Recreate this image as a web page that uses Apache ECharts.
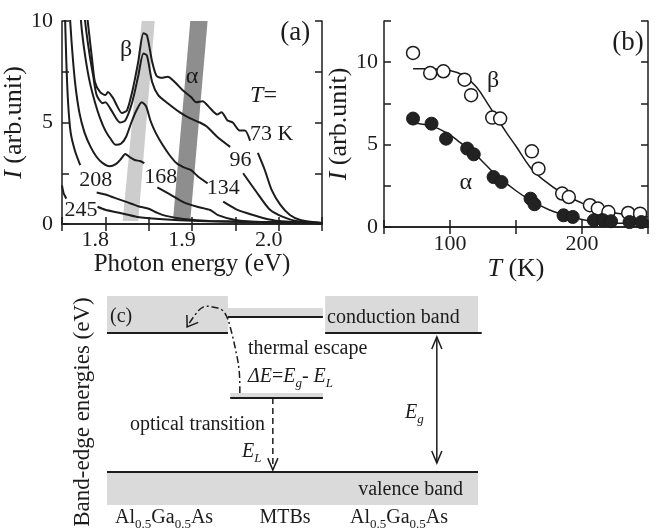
<!DOCTYPE html>
<html>
<head>
<meta charset="utf-8">
<script src="https://cdn.jsdelivr.net/npm/echarts@6/dist/echarts.min.js"></script>
<style>
  html, body { margin: 0; padding: 0; background: #fff; }
  #chart { width: 656px; height: 532px; }
</style>
</head>
<body>
<div id="chart"></div>
<script>
const FONT = '"Liberation Serif", "Times New Roman", Times, serif';
const INK = '#1c1c1c';

// ---- panel (a): PL spectra [photon energy (eV), intensity]; null = break behind the label
const spec73 = [[1.777, 11], [1.781, 9.5], [1.785, 8.0], [1.788, 7.0], [1.794, 6.5], [1.800, 6.35], [1.803, 6.5], [1.809, 6.2], [1.813, 5.86], [1.819, 5.47], [1.825, 5.6], [1.832, 6.7], [1.838, 8.0], [1.844, 9.4], [1.848, 9.3], [1.854, 8.0], [1.859, 7.3], [1.865, 7.2], [1.872, 7.25], [1.880, 7.0], [1.889, 6.6], [1.899, 6.25], [1.905, 6.0], [1.912, 6.05], [1.921, 5.7], [1.929, 5.4], [1.934, 5.5], [1.941, 5.1], [1.947, 5.0], [1.955, 4.6], [1.961, 4.6], [1.967, 4.1], null, [1.976, 3.5], [1.984, 2.66], [1.992, 1.67], [2.002, 0.94], [2.013, 0.44], [2.025, 0.2], [2.05, 0.05]];
const spec96 = [[1.774, 11], [1.778, 9.5], [1.782, 8.3], [1.786, 7.3], [1.790, 6.35], [1.797, 5.95], [1.800, 6.0], [1.807, 5.6], [1.817, 5.0], [1.823, 5.1], [1.831, 6.0], [1.838, 7.3], [1.844, 8.4], [1.848, 8.3], [1.854, 7.0], [1.861, 6.35], [1.872, 5.95], [1.886, 5.5], [1.898, 5.2], [1.909, 5.0], [1.917, 4.8], [1.929, 4.3], [1.944, 3.8], null, [1.959, 2.5], [1.974, 1.6], [1.990, 0.7], [2.005, 0.35], [2.02, 0.15], [2.05, 0.05]];
const spec134 = [[1.770, 11], [1.773, 9.5], [1.777, 8.2], [1.782, 7.0], [1.788, 6.0], [1.794, 5.2], [1.800, 4.6], [1.806, 4.2], [1.812, 3.9], [1.818, 3.95], [1.824, 4.3], [1.830, 5.0], [1.836, 5.6], [1.842, 6.0], [1.847, 5.8], [1.852, 5.1], [1.858, 4.5], [1.866, 3.9], [1.874, 3.4], [1.882, 3.0], [1.890, 2.8], [1.899, 2.65], [1.908, 2.3], [1.918, 2.0], null, [1.936, 1.1], [1.950, 0.75], [1.963, 0.54], [1.982, 0.3], [2.0, 0.15], [2.05, 0.05]];
const spec168 = [[1.758, 11], [1.761, 9], [1.765, 7], [1.770, 5.5], [1.776, 4.5], [1.783, 3.8], [1.790, 3.3], [1.797, 3.0], [1.805, 2.85], [1.812, 2.95], [1.818, 3.2], [1.823, 3.45], [1.828, 3.3], [1.834, 3.15], [1.840, 3.1], [1.845, 3.0], null, [1.860, 1.8], [1.875, 1.45], [1.890, 1.08], [1.906, 0.85], [1.921, 0.69], [1.930, 0.44], [1.950, 0.2], [1.98, 0.1], [2.05, 0.05]];
const spec208 = [[1.753, 11], [1.755, 8], [1.757, 6], [1.760, 4.5], [1.765, 3.6], [1.771, 2.9], null, [1.790, 1.55], [1.800, 1.45], [1.810, 1.3], [1.820, 1.15], [1.830, 1.0], [1.840, 0.85], [1.850, 0.75], [1.860, 0.55], [1.870, 0.4], [1.890, 0.25], [1.920, 0.15], [2.05, 0.05]];
const spec245 = [[1.750, 1.9], [1.752, 1.5], [1.755, 1.25], null, [1.791, 0.85], [1.800, 0.7], [1.816, 0.55], [1.837, 0.35], [1.862, 0.25], [1.909, 0.15], [1.96, 0.1], [2.05, 0.05]];
const betaBand = [[1.820, 0.15], [1.838, 0.15], [1.857, 10], [1.842, 10]];
const alphaBand = [[1.878, 0.15], [1.898, 0.15], [1.918, 10], [1.898, 10]];
const energyLabels = [1.8, 1.9, 2.0];
const intensityLabels = [0, 5, 10];

// ---- panel (b): integrated intensity vs temperature (K)
const betaT = [72, 85, 95, 111, 116, 132, 138, 162, 167, 185, 190, 206, 212, 220, 235, 244];
const betaI = [10.56, 9.34, 9.45, 8.94, 8.0, 6.64, 6.58, 4.59, 3.54, 2.03, 1.82, 1.32, 1.12, 0.91, 0.85, 0.81];
const alphaT = [72, 86, 97, 113, 118, 133, 139, 161, 164, 186, 193, 209, 216, 222, 236, 245];
const alphaI = [6.58, 6.27, 5.36, 4.76, 4.41, 3.03, 2.73, 1.72, 1.38, 0.71, 0.61, 0.41, 0.41, 0.35, 0.3, 0.3];
const betaFitT = [72, 85, 100, 110, 120, 130, 143, 150, 161, 170, 186, 200, 211, 225, 250];
const betaFitI = [9.6, 9.6, 9.5, 9.2, 8.5, 7.3, 5.7, 4.9, 3.6, 2.9, 2.0, 1.45, 1.12, 0.85, 0.6];
const alphaFitT = [72, 85, 98, 108, 118, 128, 135, 150, 161, 175, 186, 200, 211, 230, 250];
const alphaFitI = [6.3, 6.15, 5.7, 5.1, 4.5, 3.7, 3.15, 2.2, 1.62, 1.05, 0.75, 0.45, 0.3, 0.22, 0.2];
const tempLabels = [100, 200];

// ---- panel (c): band-edge diagram, x 0..100 across the structure, y 0..100 energy
const grayBoxes = [[0, 82.3, 32.6, 100], [58.8, 82.3, 100, 100], [32.6, 90, 58.2, 94.3], [33.2, 51.2, 58.2, 53.6], [0, 0, 100, 15.8]];
const levels = [[[0, 82.3], [32.6, 82.3]], [[58.8, 82.3], [101, 82.3]], [[32.6, 90], [58.2, 90]], [[33.2, 51.2], [58.2, 51.2]], [[0, 15.8], [100, 15.8]]];
const opticalArrow = [[44.7, 51.2], [44.7, 16.7]];
const gapArrow = [[88.9, 80.4], [88.9, 20.1]];
const escapePath = [[35.8, 53.6], [35.6, 64.6], [34.5, 75.6], [33.2, 85.2], [32.3, 90], [31.0, 93.3], [28.6, 94.7], [25.9, 94.7], [23.7, 90.9], [21.6, 85.2]];

function rich(size) {
  const base = { fontSize: size, fontFamily: FONT, color: INK, lineHeight: Math.round(size * 1.3), verticalAlign: 'middle' };
  const sub = { fontSize: Math.round(size * 0.65), fontFamily: FONT, color: INK, lineHeight: Math.round(size * 0.65), verticalAlign: 'bottom' };
  return {
    n: base,
    i: Object.assign({}, base, { fontStyle: 'italic' }),
    s: Object.assign({}, sub, { fontStyle: 'italic' }),
    u: sub
  };
}

const annoA = [
  { x: 1.824, y: 8.6, text: 'β', size: 24 },
  { x: 1.900, y: 7.25, text: 'α', size: 24 },
  { x: 1.967, y: 6.3, text: '{i|T}{n|=}', size: 24, align: 'left' },
  { x: 1.967, y: 4.4, text: '73 K', size: 22, align: 'left' },
  { x: 1.956, y: 3.15, text: '96', size: 22 },
  { x: 1.936, y: 1.77, text: '134', size: 22 },
  { x: 1.864, y: 2.32, text: '168', size: 22 },
  { x: 1.789, y: 2.17, text: '208', size: 22 },
  { x: 1.772, y: 0.69, text: '245', size: 22 },
  { x: 2.019, y: 9.4, text: '(a)', size: 27 }
];
const annoB = [
  { x: 132.6, y: 8.9, text: 'β', size: 24 },
  { x: 112, y: 2.7, text: 'α', size: 24 },
  { x: 234.8, y: 11.15, text: '(b)', size: 27 }
];
const annoC = [
  { x: 0.8, y: 90, text: '(c)', size: 20, align: 'left' },
  { x: 59.3, y: 89.5, text: 'conduction band', size: 20, align: 'left' },
  { x: 38, y: 75, text: 'thermal escape', size: 20, align: 'left' },
  { x: 38, y: 61.2, text: '{i|ΔE}{n|=}{i|E}{s|g}{n|- }{i|E}{s|L}', size: 20, align: 'left' },
  { x: 6.2, y: 38.3, text: 'optical transition', size: 20, align: 'left' },
  { x: 36.4, y: 25.4, text: '{i|E}{s|L}', size: 20, align: 'left' },
  { x: 80.3, y: 44, text: '{i|E}{s|g}', size: 20, align: 'left' },
  { x: 67.7, y: 7.2, text: 'valence band', size: 20, align: 'left' },
  { x: 15.4, y: -6.2, text: '{n|Al}{u|0.5}{n|Ga}{u|0.5}{n|As}', size: 20 },
  { x: 48, y: -6.2, text: 'MTBs', size: 20 },
  { x: 78.7, y: -6.2, text: '{n|Al}{u|0.5}{n|Ga}{u|0.5}{n|As}', size: 20 },
  { x: -6.5, y: 44.5, text: 'Band-edge energies (eV)', size: 23, rot: Math.PI / 2 }
];

function textSeries(axis, items) {
  return {
    type: 'custom', xAxisIndex: axis, yAxisIndex: axis, silent: true, z: 10,
    data: items.map(t => [t.x, t.y]),
    renderItem(params, api) {
      const t = items[params.dataIndex];
      const p = api.coord([api.value(0), api.value(1)]);
      return {
        type: 'text', x: p[0], y: p[1], rotation: t.rot || 0,
        style: {
          text: t.text, fill: INK, fontSize: t.size, fontFamily: FONT,
          align: t.align || 'center', verticalAlign: 'middle', rich: rich(t.size)
        }
      };
    }
  };
}

function segments(pts) {
  const out = [[]];
  pts.forEach(p => p ? out[out.length - 1].push(p) : out.push([]));
  return out;
}

function arrowHead(tip, from, len, spread) {
  const a = Math.atan2(tip[1] - from[1], tip[0] - from[0]);
  return {
    type: 'polyline',
    shape: { points: [
      [tip[0] - len * Math.cos(a - spread), tip[1] - len * Math.sin(a - spread)],
      tip,
      [tip[0] - len * Math.cos(a + spread), tip[1] - len * Math.sin(a + spread)]
    ] },
    style: { stroke: INK, fill: null, lineWidth: 1.5 }
  };
}

const pickLabel = (list, digits) => v => list.some(t => Math.abs(t - v) < 1e-6) ? v.toFixed(digits) : '';
const axisLine = { show: true, lineStyle: { color: INK, width: 1.5 } };
const axisTick = { show: true, inside: true, length: 7, lineStyle: { color: INK, width: 1.5 } };
const tickText = { color: INK, fontFamily: FONT, fontSize: 22 };
const nameText = (size) => ({ color: INK, fontFamily: FONT, fontSize: size, rich: rich(size) });

const series = [];

// panel (a)
series.push({
  type: 'custom', xAxisIndex: 0, yAxisIndex: 0, silent: true, z: 1, clip: true,
  data: [betaBand[0], alphaBand[0]],
  renderItem(params, api) {
    const band = [betaBand, alphaBand][params.dataIndex];
    return {
      type: 'polygon',
      shape: { points: band.map(p => api.coord(p)) },
      style: { fill: params.dataIndex === 0 ? '#cdcdcd' : '#8e8e8e' }
    };
  }
});
[spec73, spec96, spec134, spec168, spec208, spec245].forEach(spec => {
  segments(spec).forEach(seg => {
    series.push({
      type: 'line', xAxisIndex: 0, yAxisIndex: 0, data: seg, showSymbol: false,
      smooth: 0.25, clip: true, silent: true, z: 3,
      lineStyle: { color: INK, width: 2 }
    });
  });
});
series.push(textSeries(0, annoA));

// panel (b)
series.push({
  type: 'line', xAxisIndex: 1, yAxisIndex: 1, showSymbol: false, smooth: 0.4, silent: true, z: 2,
  data: betaFitT.map((t, i) => [t, betaFitI[i]]), lineStyle: { color: INK, width: 1.5 }
});
series.push({
  type: 'line', xAxisIndex: 1, yAxisIndex: 1, showSymbol: false, smooth: 0.4, silent: true, z: 2,
  data: alphaFitT.map((t, i) => [t, alphaFitI[i]]), lineStyle: { color: INK, width: 1.5 }
});
series.push({
  type: 'scatter', xAxisIndex: 1, yAxisIndex: 1, symbolSize: 13, silent: true, z: 4,
  data: betaT.map((t, i) => [t, betaI[i]]),
  itemStyle: { color: '#fff', borderColor: INK, borderWidth: 1.5, opacity: 1 }
});
series.push({
  type: 'scatter', xAxisIndex: 1, yAxisIndex: 1, symbolSize: 13, silent: true, z: 4,
  data: alphaT.map((t, i) => [t, alphaI[i]]),
  itemStyle: { color: '#222', borderColor: INK, borderWidth: 1, opacity: 1 }
});
series.push(textSeries(1, annoB));

// panel (c)
series.push({
  type: 'custom', xAxisIndex: 2, yAxisIndex: 2, silent: true, z: 2,
  data: [[50, 50]],
  renderItem(params, api) {
    const children = [];
    grayBoxes.forEach(b => {
      const p0 = api.coord([b[0], b[3]]);
      const p1 = api.coord([b[2], b[1]]);
      children.push({ type: 'rect', shape: { x: p0[0], y: p0[1], width: p1[0] - p0[0], height: p1[1] - p0[1] }, style: { fill: '#dadada' } });
    });
    levels.forEach(l => {
      children.push({ type: 'polyline', shape: { points: l.map(p => api.coord(p)) }, style: { stroke: INK, lineWidth: 2, fill: null } });
    });
    const opt = opticalArrow.map(p => api.coord(p));
    children.push({ type: 'polyline', shape: { points: opt }, style: { stroke: INK, lineWidth: 1.5, lineDash: [6, 4], fill: null } });
    children.push(arrowHead(opt[1], opt[0], 13, 0.4));
    const gap = gapArrow.map(p => api.coord(p));
    children.push({ type: 'polyline', shape: { points: gap }, style: { stroke: INK, lineWidth: 1.5, fill: null } });
    children.push(arrowHead(gap[1], gap[0], 13, 0.4));
    children.push(arrowHead(gap[0], gap[1], 13, 0.4));
    const esc = escapePath.map(p => api.coord(p));
    children.push({ type: 'polyline', shape: { points: esc, smooth: 0.4 }, style: { stroke: INK, lineWidth: 1.5, lineDash: [7, 3, 2, 3], fill: null } });
    children.push(arrowHead(esc[esc.length - 1], esc[esc.length - 2], 12, 0.6));
    return { type: 'group', children };
  }
});
series.push(textSeries(2, annoC));

const chart = echarts.init(document.getElementById('chart'));
chart.setOption({
  animation: false,
  backgroundColor: '#fff',
  grid: [
    { left: 62, top: 21, width: 260, height: 203 },
    { left: 384, top: 21, width: 264, height: 206 },
    { left: 107, top: 296, width: 371, height: 209 }
  ],
  xAxis: [
    {
      gridIndex: 0, type: 'value', min: 1.75, max: 2.05, interval: 0.05,
      axisLine, axisTick, splitLine: { show: false },
      axisLabel: Object.assign({}, tickText, { margin: 5, padding: [0, 20, 0, 0], formatter: pickLabel(energyLabels, 1) }),
      name: 'Photon energy (eV)', nameLocation: 'middle', nameGap: 17, nameTextStyle: nameText(25)
    },
    {
      gridIndex: 1, type: 'value', min: 50, max: 250, interval: 50,
      axisLine, axisTick, splitLine: { show: false },
      axisLabel: Object.assign({}, tickText, { margin: 6, formatter: pickLabel(tempLabels, 0) }),
      name: '{i|T}{n| (K)}', nameLocation: 'middle', nameGap: 16, nameTextStyle: nameText(26)
    },
    { gridIndex: 2, type: 'value', min: 0, max: 100, show: false },
    {
      gridIndex: 0, type: 'value', position: 'top', min: 1.75, max: 2.05, interval: 0.05,
      axisLine, axisTick, axisLabel: { show: false }, splitLine: { show: false }
    },
    {
      gridIndex: 1, type: 'value', position: 'top', min: 50, max: 250, interval: 50,
      axisLine, axisTick, axisLabel: { show: false }, splitLine: { show: false }
    }
  ],
  yAxis: [
    {
      gridIndex: 0, type: 'value', min: 0, max: 10, interval: 2.5,
      axisLine, axisTick, splitLine: { show: false },
      axisLabel: Object.assign({}, tickText, { margin: 9, formatter: pickLabel(intensityLabels, 0) }),
      name: '{i|I}{n| (arb.unit)}', nameLocation: 'middle', nameGap: 22, nameTextStyle: nameText(26)
    },
    {
      gridIndex: 1, type: 'value', min: 0, max: 12.5, interval: 2.5,
      axisLine, axisTick, splitLine: { show: false },
      axisLabel: Object.assign({}, tickText, { margin: 6, formatter: pickLabel(intensityLabels, 0) }),
      name: '{i|I}{n| (arb.unit)}', nameLocation: 'middle', nameGap: 27, nameTextStyle: nameText(26)
    },
    { gridIndex: 2, type: 'value', min: 0, max: 100, show: false },
    {
      gridIndex: 0, type: 'value', position: 'right', min: 0, max: 10, interval: 2.5,
      axisLine, axisTick, axisLabel: { show: false }, splitLine: { show: false }
    },
    {
      gridIndex: 1, type: 'value', position: 'right', min: 0, max: 12.5, interval: 2.5,
      axisLine, axisTick, axisLabel: { show: false }, splitLine: { show: false }
    }
  ],
  series
});
</script>
</body>
</html>
